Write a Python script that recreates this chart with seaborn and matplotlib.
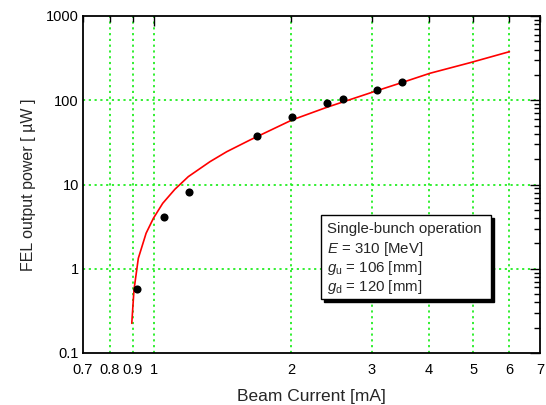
import numpy as np
import pandas as pd
import seaborn as sns
import matplotlib
matplotlib.use("Agg")
import matplotlib.pyplot as plt
from matplotlib.ticker import FixedLocator, FixedFormatter, LogLocator, NullFormatter
from matplotlib.patches import Rectangle

# measured data
meas_current = [0.918, 1.054, 1.196, 1.685, 2.003, 2.39, 2.59, 3.08, 3.49]
meas_power = [0.575, 4.08, 8.2, 37.6, 63.8, 92.0, 102.6, 133.6, 163.0]

# calculated curve
calc_current = [0.895, 0.905, 0.925, 0.962, 0.998, 1.046, 1.112, 1.19, 1.328,
                1.444, 1.623, 2.006, 2.39, 3.08, 3.49, 4.02, 4.92, 6.0]
calc_power = [0.225, 0.56, 1.33, 2.64, 3.97, 5.98, 8.77, 12.4, 18.7,
              24.5, 33.7, 58.3, 82.4, 130.0, 162.0, 209.0, 279.0, 377.0]

x_ticks = [0.7, 0.8, 0.9, 1, 2, 3, 4, 5, 6, 7]
x_tick_labels = ["0.7", "0.8", "0.9", "1", "2", "3", "4", "5", "6", "7"]
y_ticks = [0.1, 1, 10, 100, 1000]
y_tick_labels = ["0.1", "1", "10", "100", "1000"]

legend_lines = ["Single-bunch operation",
                r"$\mathit{E}$ = 310 [MeV]",
                r"$\mathit{g}_\mathrm{u}$ = 106 [mm]",
                r"$\mathit{g}_\mathrm{d}$ = 120 [mm]"]

sns.set_style("white")
plt.rcParams["font.family"] = ["Liberation Sans", "DejaVu Sans"]
plt.rcParams["mathtext.fontset"] = "custom"
plt.rcParams["mathtext.rm"] = "Liberation Sans"
plt.rcParams["mathtext.it"] = "Liberation Sans:italic"

df_meas = pd.DataFrame({"I": meas_current, "P": meas_power})
df_calc = pd.DataFrame({"I": calc_current, "P": calc_power})

fig = plt.figure(figsize=(5.46, 4.05), dpi=100)
ax = fig.add_axes([83 / 546, 52 / 405, 457 / 546, 337 / 405])
ax.set_xscale("log")
ax.set_yscale("log")

grid_kw = dict(color="#22ee22", lw=1.3, ls=(0, (1.2, 2.0)), zorder=0)
for gx in [0.8, 0.9, 1, 2, 3, 4, 5, 6]:
    ax.axvline(gx, **grid_kw)
for gy in [1, 10, 100]:
    ax.axhline(gy, **grid_kw)

sns.lineplot(data=df_calc, x="I", y="P", ax=ax, color="red", lw=1.2,
             sort=False, estimator=None, zorder=3)
sns.scatterplot(data=df_meas, x="I", y="P", ax=ax, color="black", s=34,
                edgecolor="black", linewidth=0, zorder=4)

ax.set_xlim(0.7, 7)
ax.set_ylim(0.1, 1000)

ax.xaxis.set_major_locator(FixedLocator([1]))
ax.xaxis.set_major_formatter(FixedFormatter(["1"]))
ax.xaxis.set_minor_locator(FixedLocator([t for t in x_ticks if t != 1]))
ax.xaxis.set_minor_formatter(FixedFormatter([l for t, l in zip(x_ticks, x_tick_labels) if t != 1]))

ax.yaxis.set_major_locator(FixedLocator(y_ticks))
ax.yaxis.set_major_formatter(FixedFormatter(y_tick_labels))
ax.yaxis.set_minor_locator(LogLocator(base=10, subs=np.arange(2, 10), numticks=20))
ax.yaxis.set_minor_formatter(NullFormatter())

ax.tick_params(axis="both", which="both", direction="in", top=True, right=True,
               labelsize=10.5, colors="black", width=1.0)
ax.tick_params(axis="x", which="major", length=7, pad=7)
ax.tick_params(axis="x", which="minor", length=4, pad=7)
ax.tick_params(axis="y", which="major", length=7, pad=3)
ax.tick_params(axis="y", which="minor", length=4)

for s in ax.spines.values():
    s.set_color("black")
    s.set_linewidth(1.3)

ax.set_xlabel("Beam Current [mA]", fontsize=12.5, labelpad=9)
ax.set_ylabel("FEL output power [ µW ]", fontsize=11.5, labelpad=7)

# legend-like box with shadow
trans = ax.transAxes
bx0 = (320.7 - 83) / 457
by0 = (353 - 299.3) / 337
bw = (490.7 - 320.7) / 457
bh = (299.3 - 215) / 337
dx = 3 / 457
dy = 3 / 337
ax.add_patch(Rectangle((bx0 + dx, by0 - dy), bw, bh, transform=trans,
                       facecolor="black", edgecolor="black", lw=1.0, zorder=5))
ax.add_patch(Rectangle((bx0, by0), bw, bh, transform=trans,
                       facecolor="white", edgecolor="black", lw=1.0, zorder=6))
for i, line in enumerate(legend_lines):
    ax.text(bx0 + 6 / 457, by0 + bh - (14 + i * 19.5) / 337, line, transform=trans,
            fontsize=10.8, va="center", ha="left", zorder=7)

fig.savefig("out.png", dpi=100)
